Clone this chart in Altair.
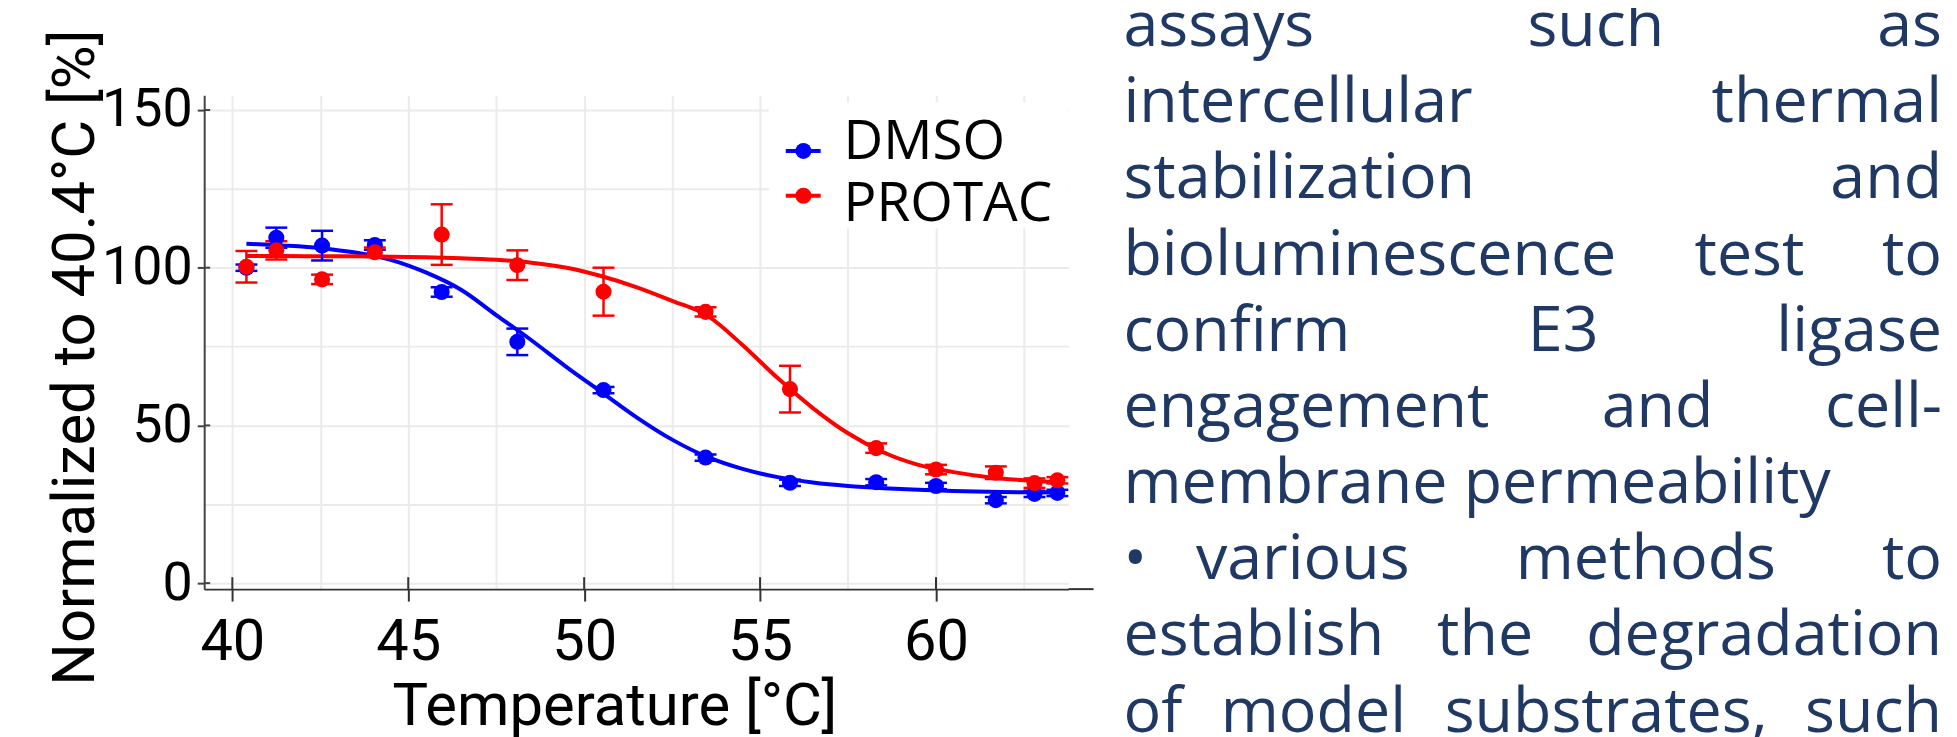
import altair as alt
import pandas as pd

# ---------------- data ----------------
series_names = ["DMSO", "PROTAC"]
series_colors = ["#0000ff", "#ff0000"]

temps = [40.4, 41.25, 42.55, 44.05, 45.95, 48.1, 50.55, 53.45, 55.85, 58.3, 60.0, 61.7, 62.8, 63.45]
dmso_vals = [100.0, 109.5, 107.0, 107.2, 92.3, 76.5, 61.2, 39.8, 31.8, 32.0, 30.8, 26.3, 28.3, 28.6]
dmso_err = [1.0, 3.2, 4.7, 1.5, 1.5, 4.2, 1.0, 1.0, 1.0, 1.0, 1.0, 1.0, 1.0, 1.0]
protac_vals = [100.3, 105.5, 96.3, 104.9, 110.5, 100.8, 92.4, 86.0, 61.5, 42.8, 36.0, 35.0, 31.7, 32.6]
protac_err = [5.0, 2.9, 1.5, 1.5, 9.6, 4.7, 7.6, 1.5, 7.4, 1.5, 1.5, 2.0, 1.5, 1.0]

fit_t = [40.4, 41.5, 42.5, 43.5, 44.5, 45.5, 46.5, 47.5, 48.5, 49.5, 50.5, 51.5,
         52.5, 53.5, 54.5, 55.5, 56.5, 57.5, 58.5, 59.5, 60.5, 61.5, 62.5, 63.5]
fit_dmso = [107.6, 107.0, 106.2, 104.8, 102.5, 98.5, 93.0, 85.0, 77.0, 68.5, 60.5, 52.5,
            45.5, 40.0, 36.2, 33.6, 31.9, 30.8, 30.1, 29.6, 29.2, 29.0, 28.8, 28.7]
fit_protac = [103.7, 103.7, 103.6, 103.6, 103.5, 103.3, 103.0, 102.5, 101.6, 100.0, 97.3, 93.8,
              89.5, 84.8, 75.5, 65.0, 55.5, 47.5, 41.5, 37.5, 35.2, 33.6, 32.6, 31.9]

x_grid = [40, 42.5, 45, 47.5, 50, 52.5, 55, 57.5, 60, 62.5]
y_grid = [0, 25, 50, 75, 100, 125, 150]
x_ticks = [40, 45, 50, 55, 60]
y_ticks = [0, 50, 100, 150]

x_title = "Temperature [°C]"
y_title = "Normalized to 40.4°C [%]"

para_lines = ["assays such as", "intercellular thermal", "stabilization and",
              "bioluminescence test to", "confirm E3 ligase", "engagement and cell-",
              "membrane permeability", "•\u00a0\u00a0\u00a0various methods to",
              "establish the degradation", "of model substrates, such"]
para_justify = [True, True, True, True, True, True, False, True, True, True]

# ---------------- tables ----------------
pts = pd.DataFrame({
    "t": temps + temps,
    "v": dmso_vals + protac_vals,
    "e": dmso_err + protac_err,
    "series": [series_names[0]] * len(temps) + [series_names[1]] * len(temps),
})
fits = pd.DataFrame({
    "t": fit_t + fit_t,
    "v": fit_dmso + fit_protac,
    "series": [series_names[0]] * len(fit_t) + [series_names[1]] * len(fit_t),
})

# plot-area geometry (pixels)
W, H = 868, 496
XDOM = [39.2, 63.77]
YDOM = [-1.9, 154.7]

color = alt.Color("series:N", scale=alt.Scale(domain=series_names, range=series_colors), legend=None)
xs = alt.Scale(domain=XDOM, nice=False, zero=False)
ys = alt.Scale(domain=YDOM, nice=False, zero=False)

x_axis = alt.Axis(
    values=x_grid, grid=True, gridColor="#ebebeb", gridWidth=2,
    domainColor="#333333", domainWidth=2, tickColor="#333333", tickWidth=2, tickSize=12,
    tickOpacity={"condition": {"test": "datum.value % 5 != 0", "value": 0}, "value": 1},
    labelExpr="datum.value % 5 == 0 ? datum.label : ''",
    labelFont="Roboto", labelFontSize=58, labelColor="black", labelPadding=13,
    labelOverlap=False, labelFlush=False,
    title=x_title, titleFont="Roboto", titleFontSize=60, titleFontWeight="normal",
    titleColor="black", titleX=412, titleY=136, titleBaseline="alphabetic", titleAlign="center",
)
y_axis = alt.Axis(
    values=y_grid, grid=True, gridColor="#ebebeb", gridWidth=2,
    domainColor="#444444", domainWidth=2, tickColor="#444444", tickWidth=2, tickSize=7,
    tickOpacity={"condition": {"test": "datum.value % 50 != 0", "value": 0}, "value": 1},
    labelExpr="datum.value % 50 == 0 ? datum.label : ''",
    labelFont="Roboto", labelFontSize=54, labelColor="black", labelPadding=5,
    labelOverlap=False, labelFlush=False, labelBaseline="middle",
    title=y_title, titleFont="Roboto", titleFontSize=60, titleFontWeight="normal",
    titleColor="black", titleX=-111, titleY=263, titleBaseline="alphabetic", titleAlign="center",
    titleAngle=270,
)

X_ENC = dict(scale=xs, axis=x_axis, title=x_title)
Y_ENC = dict(scale=ys, axis=y_axis, title=y_title)

base_fit = alt.Chart(fits)
curves = base_fit.mark_line(interpolate="monotone", strokeWidth=4).encode(
    x=alt.X("t:Q", **X_ENC),
    y=alt.Y("v:Q", **Y_ENC),
    color=color,
    detail="series:N",
)

# inner half of the crossing tick marks, and the axis-line overhang on the right
xt_in = alt.Chart(pd.DataFrame({"t": x_ticks})).mark_rule(color="#333333", strokeWidth=2).encode(
    x=alt.X("t:Q", **X_ENC), y=alt.value(H - 12), y2=alt.value(H)
)
yt_in = alt.Chart(pd.DataFrame({"v": y_ticks})).mark_rule(color="#444444", strokeWidth=2).encode(
    y=alt.Y("v:Q", **Y_ENC), x=alt.value(0), x2=alt.value(6)
)
x_overhang = alt.Chart(pd.DataFrame({"k": [0]})).mark_rule(color="#333333", strokeWidth=2).encode(
    x=alt.value(W), x2=alt.value(W + 25), y=alt.value(H)
)

# white legend background (covers grid like the original)
legend_bg = alt.Chart(pd.DataFrame({"k": [0]})).mark_rect(color="white").encode(
    x=alt.value(567), x2=alt.value(W), y=alt.value(7), y2=alt.value(134)
)

base_pts = alt.Chart(pts).transform_calculate(lo="datum.v - datum.e", hi="datum.v + datum.e")
err_rules = base_pts.mark_rule(strokeWidth=2.5).encode(
    x=alt.X("t:Q", **X_ENC),
    y=alt.Y("lo:Q", **Y_ENC),
    y2="hi:Q",
    color=color,
)
err_caps = base_pts.transform_fold(["lo", "hi"], as_=["end", "ev"]).mark_tick(
    orient="horizontal", size=22, thickness=2.5, opacity=1
).encode(
    x=alt.X("t:Q", **X_ENC),
    y=alt.Y("ev:Q", **Y_ENC),
    color=color,
)
points = base_pts.mark_circle(size=260, opacity=1).encode(
    x=alt.X("t:Q", **X_ENC),
    y=alt.Y("v:Q", **Y_ENC),
    color=color,
)

# legend built from the series list
leg = pd.DataFrame({"series": series_names, "i": list(range(len(series_names)))})
leg_base = alt.Chart(leg).transform_calculate(
    sy="56 + 45 * datum.i", ty="64 + 62 * datum.i", lx0="584", lx1="619", cx="601.7", tx="642"
)
leg_line = leg_base.mark_rule(strokeWidth=4).encode(
    x=alt.X("lx0:Q", scale=None), x2="lx1:Q", y=alt.Y("sy:Q", scale=None), color=color
)
leg_dot = leg_base.mark_circle(size=260, opacity=1).encode(
    x=alt.X("cx:Q", scale=None), y=alt.Y("sy:Q", scale=None), color=color
)
leg_text = leg_base.mark_text(
    align="left", baseline="alphabetic", font="Open Sans", fontSize=55, color="black"
).encode(x=alt.X("tx:Q", scale=None), y=alt.Y("ty:Q", scale=None), text="series:N")

# ---------------- justified paragraph on the right ----------------
OS = {" ": 532, "\u00a0": 532, "a": 1139, "b": 1255, "c": 975, "d": 1255, "e": 1149, "f": 694,
      "g": 1122, "h": 1257, "i": 518, "j": 518, "k": 1075, "l": 518, "m": 1905, "n": 1257,
      "o": 1237, "p": 1255, "q": 1255, "r": 836, "s": 977, "t": 723, "u": 1257, "v": 1026,
      "w": 1593, "x": 1073, "y": 1028, "z": 938, "E": 1147, "3": 1171, "-": 659, ",": 512,
      "•": 770}
PFS = 63


def tw(s):
    return sum(OS.get(c, 1100) for c in s) / 2048.0 * PFS


PL, PR = 923.0, 1745.0
rows_l, rows_r = [], []
for i, (line, just) in enumerate(zip(para_lines, para_justify)):
    y = -49.4 + 76.5 * i
    toks = line.split(" ")
    if not just or len(toks) == 1:
        rows_l.append({"w": line, "px": PL, "py": y})
        continue
    widths = [tw(t) for t in toks]
    gap = (PR - PL - sum(widths)) / (len(toks) - 1)
    x = PL
    for j, (t, wdt) in enumerate(zip(toks, widths)):
        if j == len(toks) - 1:
            rows_r.append({"w": t, "px": PR, "py": y})
        else:
            rows_l.append({"w": t, "px": x, "py": y})
        x += wdt + gap

para_style = dict(baseline="alphabetic", font="Open Sans", fontSize=PFS, color="#1f3864")
para_left = alt.Chart(pd.DataFrame(rows_l)).mark_text(align="left", **para_style).encode(
    x=alt.X("px:Q", scale=None), y=alt.Y("py:Q", scale=None), text="w:N"
)
para_right = alt.Chart(pd.DataFrame(rows_r)).mark_text(align="right", **para_style).encode(
    x=alt.X("px:Q", scale=None), y=alt.Y("py:Q", scale=None), text="w:N"
)

chart = alt.layer(
    curves, xt_in, yt_in, x_overhang, legend_bg, err_rules, err_caps, points,
    leg_line, leg_dot, leg_text, para_left, para_right
).properties(
    width=W, height=H,
    padding={"left": 197, "top": 86, "right": 884, "bottom": 157},
    autosize=alt.AutoSizeParams(type="none"),
    background="white",
).configure_view(stroke=None)

chart.save("out.html", embed_options={"renderer": "svg", "actions": False})
